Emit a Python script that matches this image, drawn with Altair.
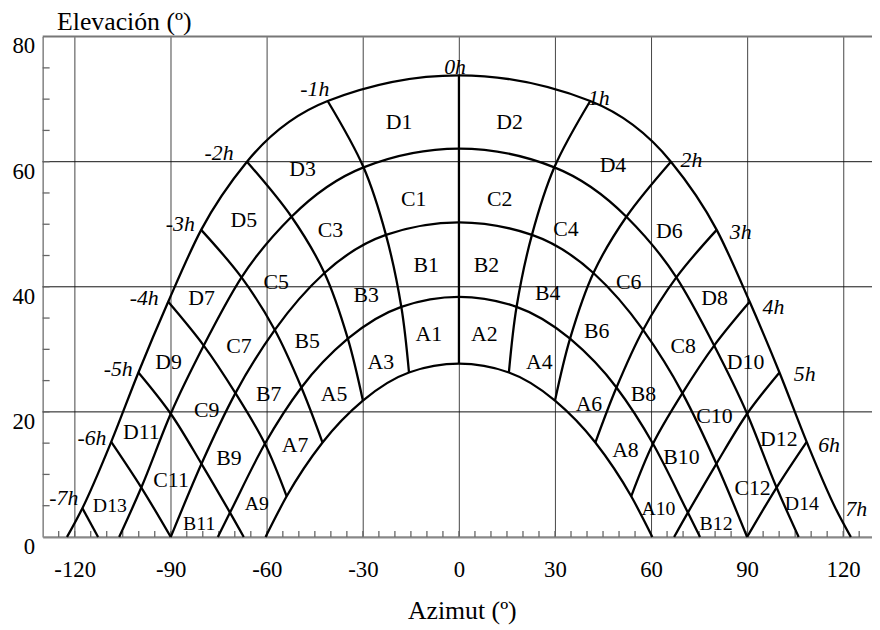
import altair as alt
import pandas as pd

# ---------------- data ----------------
# Sun-path arcs: points where each arc meets the hour lines (azimuth, elevation)
ARC1_HOURS = [-7, -6, -5, -4, -3, -2, -1, 0, 1, 2, 3, 4, 5, 6, 7]
ARC1_AZ = [-117.6, -108.6, -100.1, -90.8, -80.5, -66.2, -41.0, 0, 41.0, 66.2, 80.5, 90.8, 100.1, 108.6, 117.6]
ARC1_ALT = [4.6, 15.2, 26.3, 37.6, 49.1, 60.0, 69.7, 73.8, 69.7, 60.0, 49.1, 37.6, 26.3, 15.2, 4.6]
ARC1_HORIZON = 122.4

ARC2_HOURS = [-6, -5, -4, -3, -2, -1, 0, 1, 2, 3, 4, 5, 6]
ARC2_AZ = [-99.2, -90.0, -79.7, -67.9, -52.3, -29.8, 0, 29.8, 52.3, 67.9, 79.7, 90.0, 99.2]
ARC2_ALT = [7.9, 19.7, 30.6, 41.5, 51.2, 59.1, 62.1, 59.1, 51.2, 41.5, 30.6, 19.7, 7.9]
ARC2_HORIZON = 106.1

ARC3_HOURS = [-6, -5, -4, -3, -2, -1, 0, 1, 2, 3, 4, 5, 6]
ARC3_AZ = [-90.0, -80.4, -69.8, -57.5, -42.0, -22.8, 0, 22.8, 42.0, 57.5, 69.8, 80.4, 90.0]
ARC3_ALT = [0.0, 11.7, 23.0, 33.1, 42.2, 48.3, 50.3, 48.3, 42.2, 33.1, 23.0, 11.7, 0.0]
ARC3_HORIZON = 90.0

ARC4_HOURS = [-5, -4, -3, -2, -1, 0, 1, 2, 3, 4, 5]
ARC4_AZ = [-71.5, -60.6, -49.2, -34.7, -18.0, 0, 18.0, 34.7, 49.2, 60.6, 71.5]
ARC4_ALT = [3.9, 14.9, 23.9, 31.7, 36.8, 38.4, 36.8, 31.7, 23.9, 14.9, 3.9]
ARC4_HORIZON = 75.3

ARC5_HOURS = [-4, -3, -2, -1, 0, 1, 2, 3, 4]
ARC5_AZ = [-53.8, -42.6, -30.0, -15.6, 0, 15.6, 30.0, 42.6, 53.8]
ARC5_ALT = [6.5, 15.1, 21.8, 26.3, 27.7, 26.3, 21.8, 15.1, 6.5]
ARC5_HORIZON = 60.4

# hour lines that run down to the horizon (hour, azimuth at elevation 0)
HOUR_END_HOURS = [-7, -5, 5]
HOUR_END_AZ = [-112.7, -67.2, 67.2]

# region labels
REGION_TEXT = ["D1", "D2", "D3", "D4", "D5", "D6", "D7", "D8", "D9", "D10", "D11", "D12", "D13", "D14",
               "C1", "C2", "C3", "C4", "C5", "C6", "C7", "C8", "C9", "C10", "C11", "C12",
               "B1", "B2", "B3", "B4", "B5", "B6", "B7", "B8", "B9", "B10", "B11", "B12",
               "A1", "A2", "A3", "A4", "A5", "A6", "A7", "A8", "A9", "A10"]
REGION_AZ = [-18.7, 15.8, -48.8, 48.1, -67.2, 65.7, -80.4, 79.8, -90.7, 89.5, -99.2, 99.9, -109.0, 107.1,
             -14.1, 12.7, -40.1, 33.4, -57.1, 53.0, -68.7, 70.0, -78.8, 79.8, -89.9, 91.7,
             -10.2, 8.6, -29.0, 27.7, -47.4, 43.0, -59.4, 57.6, -71.8, 69.5, -81.1, 80.3,
             -9.4, 7.9, -24.4, 25.1, -39.0, 40.6, -51.2, 52.0, -63.1, 62.3]
REGION_ALT = [66.4, 66.4, 58.8, 59.4, 50.6, 48.9, 38.2, 38.2, 27.9, 27.9, 16.8, 15.7, 4.9, 5.2,
              54.0, 54.0, 49.1, 49.3, 40.8, 40.8, 30.5, 30.5, 20.3, 19.4, 9.1, 7.8,
              43.4, 43.4, 38.7, 39.0, 31.3, 32.9, 22.9, 22.9, 12.6, 12.7, 2.1, 2.0,
              32.4, 32.4, 27.9, 27.9, 22.9, 21.3, 14.7, 13.9, 5.2, 4.4]
SMALL_LABELS = ["D13", "D14", "A9", "A10", "B11", "B12"]

# hour labels
HOUR_TEXT = ["-7h", "-6h", "-5h", "-4h", "-3h", "-2h", "-1h", "0h",
             "1h", "2h", "3h", "4h", "5h", "6h", "7h"]
HOUR_LABEL_AZ = [-123.4, -114.6, -106.4, -98.3, -87.0, -74.9, -45.0, -1.2,
                 43.7, 72.6, 88.0, 98.2, 108.0, 115.6, 124.1]
HOUR_LABEL_ALT = [6.2, 15.8, 26.8, 38.2, 50.1, 61.4, 71.6, 75.1,
                  70.1, 60.2, 48.7, 36.8, 26.0, 14.7, 4.4]

X_TICK_LABELS = [-120, -90, -60, -30, 0, 30, 60, 90, 120]
Y_TICK_LABELS = [0, 20, 40, 60, 80]
X_MINOR = list(range(-125, 130, 5))
Y_MINOR = list(range(5, 80, 5))
H_GRID = [20, 40, 60]

# ---------------- tables ----------------
ARCS = [
    (ARC1_HOURS, ARC1_AZ, ARC1_ALT, ARC1_HORIZON),
    (ARC2_HOURS, ARC2_AZ, ARC2_ALT, ARC2_HORIZON),
    (ARC3_HOURS, ARC3_AZ, ARC3_ALT, ARC3_HORIZON),
    (ARC4_HOURS, ARC4_AZ, ARC4_ALT, ARC4_HORIZON),
    (ARC5_HOURS, ARC5_AZ, ARC5_ALT, ARC5_HORIZON),
]

arc_rows = []
for k, (hrs, az, el, hz) in enumerate(ARCS, start=1):
    pts = list(zip(az, el))
    if el[0] > 0:
        pts = [(-hz, 0.0)] + pts + [(hz, 0.0)]
    for i, (a, e) in enumerate(pts):
        arc_rows.append({"arc": k, "i": i, "az": a, "alt": e})
arc_df = pd.DataFrame(arc_rows)

hour_rows = []
for h in range(-7, 8):
    pts = []
    for hrs, az, el, hz in ARCS:
        if h in hrs:
            j = hrs.index(h)
            pts.append((az[j], el[j]))
    if h in HOUR_END_HOURS:
        pts.append((HOUR_END_AZ[HOUR_END_HOURS.index(h)], 0.0))
    if len(pts) < 2:
        continue
    for i, (a, e) in enumerate(pts):
        hour_rows.append({"hour": h, "i": i, "az": a, "alt": e})
hour_df = pd.DataFrame(hour_rows)

region_df = pd.DataFrame({"t": REGION_TEXT, "az": REGION_AZ, "alt": REGION_ALT})
region_df["small"] = region_df["t"].isin(SMALL_LABELS)
hour_lab_df = pd.DataFrame({"t": HOUR_TEXT, "az": HOUR_LABEL_AZ, "alt": HOUR_LABEL_ALT})

FONT = "'Liberation Serif', 'Times New Roman', Tinos, 'DejaVu Serif', serif"
W, H = 837, 505

xs = alt.Scale(domain=[-130, 129], nice=False, zero=False)
ys = alt.Scale(domain=[0, 80], nice=False, zero=False)

x_axis = alt.Axis(
    values=X_TICK_LABELS, grid=True, gridColor="#444", gridWidth=1, gridOpacity=1,
    ticks=False, domainColor="#888", domainWidth=2.2,
    labelFont=FONT, labelFontSize=23, labelColor="black", labelPadding=22,
    labelExpr="'' + datum.value",
    title="Azimut (º)", titleFont=FONT, titleFontSize=26, titleFontWeight="normal",
    titleColor="black", titleBaseline="alphabetic", titleY=82, titleX=423,
)
y_axis = alt.Axis(
    values=Y_TICK_LABELS, grid=False, ticks=False, domainColor="#888", domainWidth=1.6,
    labelFont=FONT, labelFontSize=23, labelColor="black", labelPadding=8,
    labelBaseline="middle", labelOffset=9.5,
    title="Elevación (º)", titleFont=FONT, titleFontSize=26, titleFontWeight="normal",
    titleColor="black", titleAngle=0, titleAlign="left", titleBaseline="alphabetic",
    titleX=14, titleY=-7,
)


def X(f):
    return alt.X(f, type="quantitative", scale=xs, axis=x_axis)


def Y(f):
    return alt.Y(f, type="quantitative", scale=ys, axis=y_axis)


hgrid = alt.Chart(pd.DataFrame({"v": H_GRID})).mark_rule(color="#111", strokeWidth=1).encode(y=Y("v"))
top = alt.Chart(pd.DataFrame({"v": [80]})).mark_rule(color="#777", strokeWidth=2).encode(y=Y("v"))
xticks = alt.Chart(pd.DataFrame({"v": X_MINOR})).mark_rule(color="#666", strokeWidth=1.3).encode(
    x=X("v"), y=alt.value(H), y2=alt.value(H - 6))
yticks = alt.Chart(pd.DataFrame({"v": Y_MINOR})).mark_rule(color="#666", strokeWidth=1.3).encode(
    y=Y("v"), x=alt.value(0), x2=alt.value(7))

arcs = alt.Chart(arc_df).mark_line(color="black", strokeWidth=2.3, interpolate="monotone").encode(
    x=X("az"), y=Y("alt"), detail="arc:N", order="i:Q")
hours = alt.Chart(hour_df).mark_line(color="black", strokeWidth=2.3, interpolate="catmull-rom").encode(
    x=X("az"), y=Y("alt"), detail="hour:N", order="i:Q")

regions_big = alt.Chart(region_df).transform_filter("!datum.small").mark_text(
    font=FONT, fontSize=22, color="black", align="center", baseline="middle").encode(
    x=X("az"), y=Y("alt"), text="t:N")
regions_small = alt.Chart(region_df).transform_filter("datum.small").mark_text(
    font=FONT, fontSize=20, color="black", align="center", baseline="middle").encode(
    x=X("az"), y=Y("alt"), text="t:N")
hour_labels = alt.Chart(hour_lab_df).mark_text(
    font=FONT, fontSize=22, fontStyle="italic", color="black", align="center", baseline="middle").encode(
    x=X("az"), y=Y("alt"), text="t:N")

chart = alt.layer(hgrid, top, xticks, yticks, arcs, hours, regions_big, regions_small, hour_labels).properties(
    width=W, height=H,
    autosize=alt.AutoSizeParams(type="none"),
    padding={"left": 35, "top": 26, "right": 0, "bottom": 88},
).configure_view(stroke="transparent")

chart.save("out.html", embed_options={"renderer": "svg", "actions": False})
